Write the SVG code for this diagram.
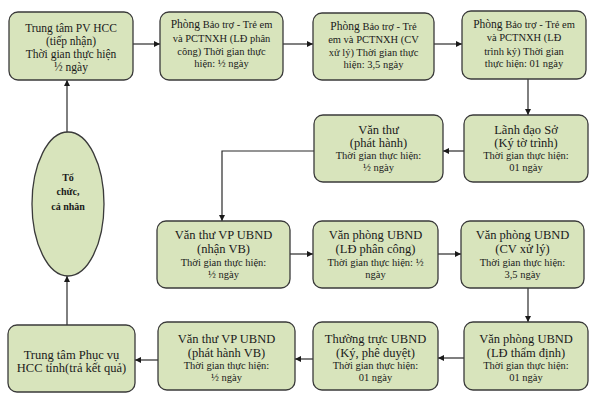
<svg xmlns="http://www.w3.org/2000/svg" width="596" height="402" viewBox="0 0 596 402">
<style>
.n{fill:#d8e4bc;stroke:#3a3a3a;stroke-width:1.3}
text{font-family:"Liberation Serif","Times New Roman",serif;fill:#1a1a1a;text-anchor:middle}
.t{font-size:12.5px}
.s{font-size:10.5px}
.b{font-size:11.5px}
.e{font-size:10px;font-weight:bold}
.c{fill:none;stroke:#2a2a2a;stroke-width:1.2;marker-end:url(#a)}
</style>
<defs>
<marker id="a" viewBox="0 0 10 10" refX="10" refY="5" markerWidth="6" markerHeight="6" markerUnits="userSpaceOnUse" orient="auto"><path d="M0,0L10,5L0,10z" fill="#1a1a1a"/></marker>
</defs>
<rect width="596" height="402" fill="#fff"/>
<g id="connectors">
<path class="c" d="M133,44H160"/>
<path class="c" d="M283,44H313"/>
<path class="c" d="M434,44H462"/>
<path class="c" d="M528,79V115"/>
<path class="c" d="M464,151H443"/>
<path class="c" d="M314,151H222V221"/>
<path class="c" d="M290,254H313"/>
<path class="c" d="M438,254H461"/>
<path class="c" d="M528,288V322"/>
<path class="c" d="M464,358H438"/>
<path class="c" d="M313,359H295"/>
<path class="c" d="M158,360H135"/>
<path class="c" d="M67,325V276"/>
<path class="c" d="M67,132V80"/>
</g>
<g id="n1"><rect class="n" x="9" y="12" width="124" height="68" rx="9"/>
<text class="b" x="71" y="32">Trung tâm PV HCC</text>
<text class="b" x="71" y="45">(tiếp nhận)</text>
<text class="b" x="71" y="58">Thời gian thực hiện</text>
<text class="b" x="71" y="71">½ ngày</text></g>
<g id="n2"><rect class="n" x="160" y="12" width="123" height="68" rx="9"/>
<text class="s" x="221.5" y="28"><tspan font-size="11.5">Phòng</tspan> Bảo trợ - Trẻ em</text>
<text class="s" x="221.5" y="42">và PCTNXH (LĐ phân</text>
<text class="s" x="221.5" y="55">công) Thời gian thực</text>
<text class="s" x="221.5" y="67">hiện: ½  ngày</text></g>
<g id="n3"><rect class="n" x="313" y="13" width="121" height="67" rx="9"/>
<text class="s" x="373.5" y="30"><tspan font-size="11.5">Phòng</tspan> Bảo trợ - Trẻ</text>
<text class="s" x="373.5" y="43">em và PCTNXH (CV</text>
<text class="s" x="373.5" y="56">xử lý) Thời gian thực</text>
<text class="s" x="373.5" y="68">hiện:  3,5 ngày</text></g>
<g id="n4"><rect class="n" x="462" y="11" width="124" height="68" rx="9"/>
<text class="s" x="524" y="28"><tspan font-size="11.5">Phòng</tspan> Bảo trợ - Trẻ em</text>
<text class="s" x="524" y="41">và PCTNXH (LĐ</text>
<text class="s" x="524" y="55">trình ký) Thời gian</text>
<text class="s" x="524" y="67">thực hiện:  01 ngày</text></g>
<g id="n5"><rect class="n" x="464" y="115" width="124" height="67" rx="9"/>
<text class="t" x="526" y="134">Lãnh đạo Sở</text>
<text class="t" x="526" y="147">(Ký tờ trình)</text>
<text class="s" x="526" y="159">Thời gian thực hiện:</text>
<text class="s" x="526" y="171">01 ngày</text></g>
<g id="n6"><rect class="n" x="314" y="115" width="129" height="67" rx="9"/>
<text class="t" x="378.5" y="134">Văn thư</text>
<text class="t" x="378.5" y="147">(phát hành)</text>
<text class="s" x="378.5" y="159">Thời gian thực hiện:</text>
<text class="s" x="378.5" y="171">½ ngày</text></g>
<g id="n7"><rect class="n" x="157" y="221" width="133" height="67" rx="9"/>
<text class="t" x="223.5" y="239">Văn thư VP UBND</text>
<text class="t" x="223.5" y="253">(nhận VB)</text>
<text class="s" x="223.5" y="266">Thời gian thực hiện:</text>
<text class="s" x="223.5" y="278">½  ngày</text></g>
<g id="n8"><rect class="n" x="313" y="221" width="125" height="67" rx="9"/>
<text class="t" x="375.5" y="239">Văn phòng UBND</text>
<text class="t" x="375.5" y="253">(LĐ phân công)</text>
<text class="s" x="375.5" y="266">Thời gian thực hiện:  ½</text>
<text class="s" x="375.5" y="278">ngày</text></g>
<g id="n9"><rect class="n" x="461" y="221" width="123" height="67" rx="9"/>
<text class="t" x="522.5" y="239">Văn phòng UBND</text>
<text class="t" x="522.5" y="253">(CV xử lý)</text>
<text class="s" x="522.5" y="266">Thời gian thực hiện:</text>
<text class="s" x="522.5" y="278">3,5 ngày</text></g>
<g id="n10"><rect class="n" x="464" y="322" width="124" height="68" rx="9"/>
<text class="t" x="526" y="343">Văn phòng UBND</text>
<text class="t" x="526" y="357">(LĐ thẩm định)</text>
<text class="s" x="526" y="369">Thời gian thực hiện:</text>
<text class="s" x="526" y="381">01 ngày</text></g>
<g id="n11"><rect class="n" x="313" y="322" width="125" height="68" rx="9"/>
<text class="t" x="375.5" y="343">Thường trực UBND</text>
<text class="t" x="375.5" y="357">(Ký, phê duyệt)</text>
<text class="s" x="375.5" y="369">Thời gian thực hiện:</text>
<text class="s" x="375.5" y="381">01 ngày</text></g>
<g id="n12"><rect class="n" x="158" y="322" width="137" height="68" rx="9"/>
<text class="t" x="226.5" y="343">Văn thư VP UBND</text>
<text class="t" x="226.5" y="357">(phát hành VB)</text>
<text class="s" x="226.5" y="369">Thời gian thực hiện:</text>
<text class="s" x="226.5" y="381">½  ngày</text></g>
<g id="n13"><rect class="n" x="8" y="325" width="127" height="67" rx="9"/>
<text class="t" x="71.5" y="359">Trung tâm Phục vụ</text>
<text class="t" x="71.5" y="372">HCC tỉnh(trả kết quả)</text></g>
<g id="n14"><ellipse class="n" cx="68" cy="204" rx="36" ry="72"/>
<text class="e" x="68" y="181">Tổ</text>
<text class="e" x="68" y="195">chức,</text>
<text class="e" x="68" y="210">cá nhân</text></g>
</svg>
